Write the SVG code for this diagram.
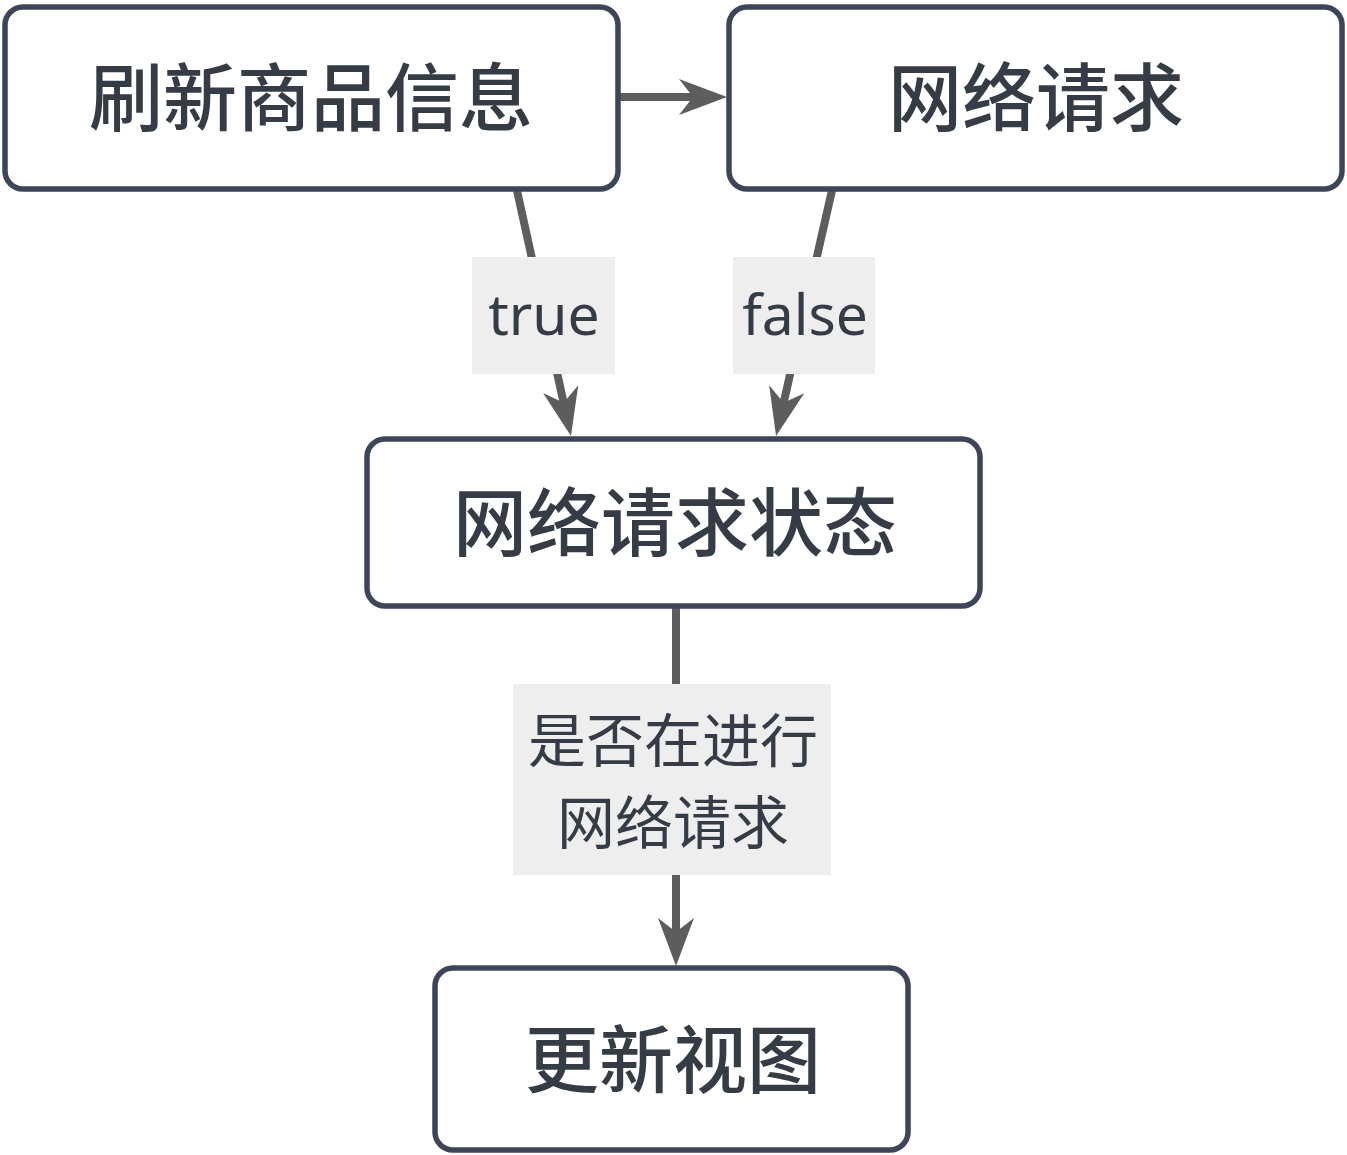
<svg xmlns="http://www.w3.org/2000/svg" width="1347" height="1155" viewBox="0 0 1347 1155">
<style>
.node{fill:#ffffff;stroke:#3d4659;stroke-width:5.5}
.nt{font-family:"Noto Sans CJK SC","Noto Sans",sans-serif;font-size:74px;font-weight:500;fill:#363c45;text-anchor:middle}
.edge{stroke:#5d5d5d;stroke-width:8;fill:none}
.lb{fill:#eeeeee}
.lt{font-family:"Noto Sans CJK SC","Noto Sans",sans-serif;font-size:58px;fill:#363c45;text-anchor:middle}
.ltl{font-family:"Noto Sans","Noto Sans CJK SC",sans-serif;font-size:57px;fill:#363c45;text-anchor:middle}
</style>
<defs>
<marker id="arr" viewBox="-52 -22 54 44" refX="-25" refY="0" markerWidth="54" markerHeight="44" markerUnits="userSpaceOnUse" orient="auto">
<path d="M0,0 L-48,-18 L-34,0 L-48,18 Z" fill="#5d5d5d"/>
</marker>
</defs>
<rect width="1347" height="1155" fill="#ffffff"/>
<g id="connectors">
<line class="edge" x1="618" y1="97" x2="702" y2="97" marker-end="url(#arr)"/>
<line class="edge" x1="516" y1="186" x2="565.6" y2="411.6" marker-end="url(#arr)"/>
<line class="edge" x1="833" y1="186" x2="781.6" y2="411.6" marker-end="url(#arr)"/>
<line class="edge" x1="676" y1="606" x2="676" y2="941" marker-end="url(#arr)"/>
<g id="label-true"><rect class="lb" x="472" y="257" width="143" height="117"/><text class="ltl" x="544" y="335">true</text></g>
<g id="label-false"><rect class="lb" x="733" y="257" width="142" height="117"/><text class="ltl" x="805" y="335">false</text></g>
<g id="label-status"><rect class="lb" x="513" y="684" width="318" height="191"/>
<text class="lt" x="673" y="762">是否在进行</text>
<text class="lt" x="673" y="844">网络请求</text></g>
</g>
<g id="node-refresh"><rect class="node" x="5" y="7" width="613" height="182" rx="18"/><text class="nt" x="311" y="125">刷新商品信息</text></g>
<g id="node-request"><rect class="node" x="729" y="7" width="613" height="182" rx="18"/><text class="nt" x="1036" y="125">网络请求</text></g>
<g id="node-status"><rect class="node" x="367" y="439" width="613" height="167" rx="18"/><text class="nt" x="675" y="550">网络请求状态</text></g>
<g id="node-update"><rect class="node" x="435" y="968" width="473" height="182" rx="18"/><text class="nt" x="673" y="1087">更新视图</text></g>
</svg>
